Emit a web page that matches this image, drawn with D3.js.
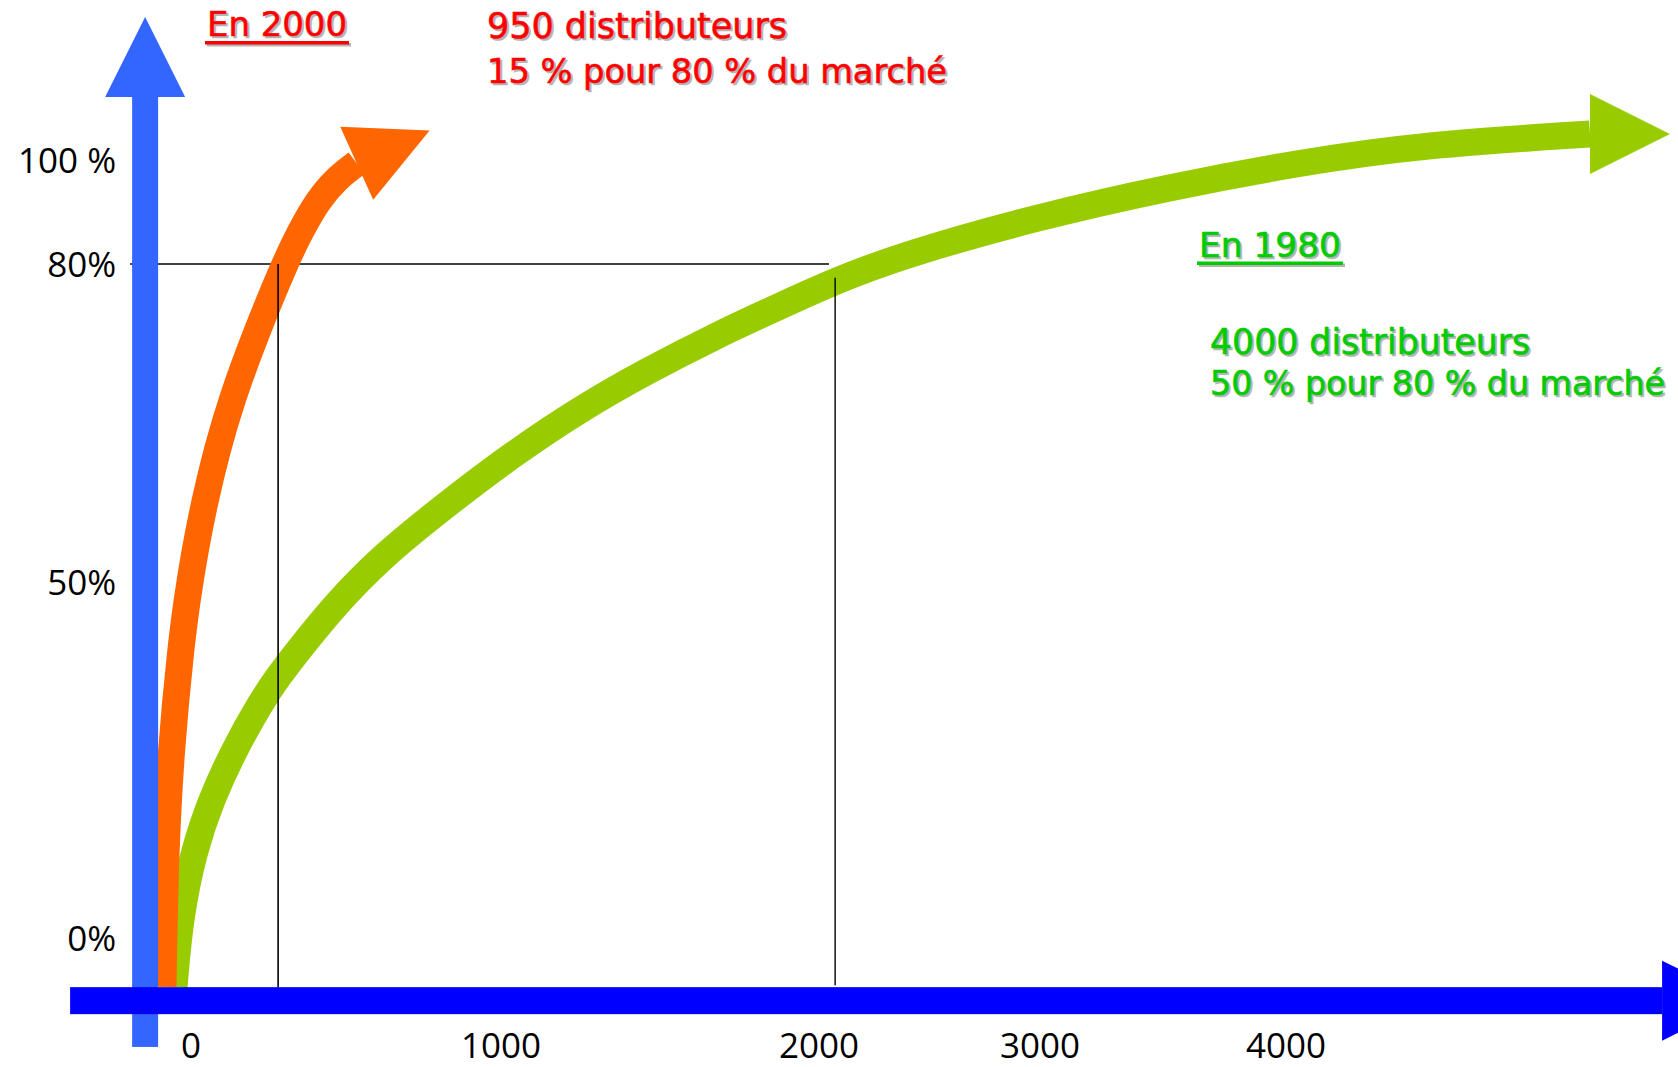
<!DOCTYPE html>
<html>
<head>
<meta charset="utf-8">
<script src="https://cdn.jsdelivr.net/npm/d3@7"></script>
<style>
  html, body { margin: 0; padding: 0; background: #ffffff; }
  svg { display: block; }
</style>
</head>
<body>
<svg id="chart" width="1678" height="1067"></svg>
<script>
// ---------------- DATA ----------------
const xTickValues = [0, 1000, 2000, 3000, 4000];
const xTickLabels = ["0", "1000", "2000", "3000", "4000"];
const yTickValues = [0, 50, 80, 100];
const yTickLabels = ["0%", "50%", "80%", "100 %"];

// 2000 curve (orange): number of distributors vs cumulated market share (%)
const orangeX = [-90.3, -82.3, -64.5, -33.9, -12.9, 12.9, 45.2, 83.9, 130.6, 209.7, 303.2, 351.6, 409.7, 471.0, 534.5];
const orangeY = [-6.88, 12.36, 26.40, 40.45, 47.47, 53.02, 57.74, 62.45, 67.17, 73.49, 80.19, 86.15, 92.31, 96.54, 99.37];

// 1980 curve (green)
const greenX = [-54.8, -35.5, 9.7, 64.5, 138.7, 225.8, 280.6, 341.9, 464.5, 609.7, 825.8, 1037.7, 1248.4, 1459.1, 1666.7, 1877.4, 2072.4, 2366.5, 2968.3, 3516.3, 4056.9, 4544.7, 5235.8];
const greenY = [-6.88, 2.95, 12.36, 19.38, 26.40, 33.15, 36.66, 40.17, 46.77, 52.26, 57.36, 62.08, 66.32, 69.91, 73.11, 76.04, 78.40, 81.54, 88.85, 94.71, 99.52, 102.88, 105.0];

// reference lines (80 % of the market)
const refLevel = 80;
const refOrangeX = 281;
const refGreenX = 2073;
const refLineEndX = 2045;
const refGreenTop = 78.7;

// axis extents (data units)
const axisXPos = -148;      // vertical axis position
const axisYMin = -15.3;     // bottom of vertical axis
const axisYTip = 127.5;     // tip of vertical axis arrow
const axisYPos = -8.8;      // horizontal axis position
const axisXMin = -390;      // left end of horizontal axis
const axisXTip = 5854;      // tip of horizontal axis arrow
const floorY = -6.9;        // top edge of horizontal axis

const annot2000 = ["En 2000", "950 distributeurs", "15 % pour 80 % du marché"];
const annot1980 = ["En 1980", "4000 distributeurs", "50 % pour 80 % du marché"];

// ---------------- LAYOUT / STYLE ----------------
const svg = d3.select("#chart");
const xScale = d3.scaleLinear().domain(xTickValues).range([191, 501, 819, 1040, 1286]);
const yScale = d3.scaleLinear().domain(yTickValues).range([938, 582, 264, 160]);

const HEAD_LEN = 80, HEAD_HALF = 40;
const COL_ORANGE = "#FF6600", COL_GREEN = "#99CC00";
const COL_VAXIS = "#3366FF", COL_HAXIS = "#0000FF";
const COL_RED = "#FF0000", COL_GTEXT = "#00CC00", COL_SHADOW = "#b4b4b4";

function headPoints(px, py, ang) {
  const c = Math.cos(ang), s = Math.sin(ang);
  return [
    [px + HEAD_LEN * c, py + HEAD_LEN * s],
    [px - HEAD_HALF * s, py + HEAD_HALF * c],
    [px + HEAD_HALF * s, py - HEAD_HALF * c]
  ];
}

const line = d3.line().x(d => xScale(d[0])).y(d => yScale(d[1])).curve(d3.curveBasis);

// horizontal reference line (below curves)
svg.append("line")
  .attr("x1", xScale(axisXPos) - 15).attr("x2", xScale(refLineEndX))
  .attr("y1", yScale(refLevel)).attr("y2", yScale(refLevel))
  .attr("stroke", "#000").attr("stroke-width", 1.6);

function drawArrowCurve(xs, ys, color, width, tiltDeg) {
  const pts = xs.map((x, i) => [x, ys[i]]);
  svg.append("path").attr("d", line(pts))
    .attr("fill", "none").attr("stroke", color)
    .attr("stroke-width", width).attr("stroke-linecap", "butt");
  const n = pts.length;
  const ex = xScale(pts[n - 1][0]), ey = yScale(pts[n - 1][1]);
  const px = xScale(pts[n - 2][0]), py = yScale(pts[n - 2][1]);
  const ang = Math.atan2(ey - py, ex - px) + tiltDeg * Math.PI / 180;
  svg.append("polygon").attr("points", headPoints(ex, ey, ang).map(p => p.join(",")).join(" "))
    .attr("fill", color);
}

drawArrowCurve(greenX, greenY, COL_GREEN, 27, 3.7);
drawArrowCurve(orangeX, orangeY, COL_ORANGE, 27, 12.5);

// vertical reference lines (over curves)
svg.append("line")
  .attr("x1", xScale(refOrangeX)).attr("x2", xScale(refOrangeX))
  .attr("y1", yScale(refLevel)).attr("y2", yScale(floorY))
  .attr("stroke", "#000").attr("stroke-width", 1.6);
svg.append("line")
  .attr("x1", xScale(refGreenX)).attr("x2", xScale(refGreenX))
  .attr("y1", yScale(refGreenTop)).attr("y2", yScale(floorY) - 2)
  .attr("stroke", "#000").attr("stroke-width", 1.4);

// vertical axis arrow
const vx = xScale(axisXPos);
const vTip = yScale(axisYTip);
svg.append("rect")
  .attr("x", vx - 13).attr("width", 26)
  .attr("y", vTip + HEAD_LEN).attr("height", yScale(axisYMin) - (vTip + HEAD_LEN))
  .attr("fill", COL_VAXIS);
svg.append("polygon")
  .attr("points", headPoints(vx, vTip + HEAD_LEN, -Math.PI / 2).map(p => p.join(",")).join(" "))
  .attr("fill", COL_VAXIS);

// horizontal axis arrow
const hy = yScale(axisYPos);
const hTip = xScale(axisXTip);
svg.append("rect")
  .attr("x", xScale(axisXMin)).attr("width", hTip - HEAD_LEN - xScale(axisXMin))
  .attr("y", hy - 13.5).attr("height", 27)
  .attr("fill", COL_HAXIS);
svg.append("polygon")
  .attr("points", headPoints(hTip - HEAD_LEN, hy, 0).map(p => p.join(",")).join(" "))
  .attr("fill", COL_HAXIS);

// y tick labels
svg.append("g").selectAll("text").data(yTickValues).join("text")
  .attr("x", vx - 29).attr("y", d => yScale(d) + 13)
  .attr("text-anchor", "end")
  .attr("font-family", "'Open Sans', 'Noto Sans', sans-serif")
  .attr("font-size", 35).attr("fill", "#000")
  .text((d, i) => yTickLabels[i]);

// x tick labels
svg.append("g").selectAll("text").data(xTickValues).join("text")
  .attr("x", d => xScale(d)).attr("y", hy + 57.5)
  .attr("text-anchor", "middle")
  .attr("font-family", "'Open Sans', 'Noto Sans', sans-serif")
  .attr("font-size", 35).attr("fill", "#000")
  .text((d, i) => xTickLabels[i]);

// annotation text with drop shadow
function shadowText(str, x, y, size, color, len, underline) {
  const g = svg.append("g");
  [[2, 2, COL_SHADOW], [0, 0, color]].forEach(([dx, dy, c]) => {
    g.append("text").attr("x", x + dx).attr("y", y + dy)
      .attr("font-family", "'DejaVu Sans', Verdana, sans-serif")
      .attr("font-size", size).attr("fill", c)
      .attr("stroke", c).attr("stroke-width", 0.6)
      .attr("textLength", len).attr("lengthAdjust", "spacingAndGlyphs")
      .text(str);
    if (underline) {
      g.append("rect").attr("x", x - 2 + dx).attr("y", y + 5 + dy)
        .attr("width", len + 4).attr("height", 3.5).attr("fill", c);
    }
  });
}

shadowText(annot2000[0], 207, 36, 34, COL_RED, 140, true);
shadowText(annot2000[1], 487, 38, 35, COL_RED, 300, false);
shadowText(annot2000[2], 487, 83, 34, COL_RED, 460, false);

shadowText(annot1980[0], 1199, 256.5, 34, COL_GTEXT, 142, true);
shadowText(annot1980[1], 1210, 354, 35, COL_GTEXT, 320, false);
shadowText(annot1980[2], 1210, 395, 34, COL_GTEXT, 455, false);
</script>
</body>
</html>
